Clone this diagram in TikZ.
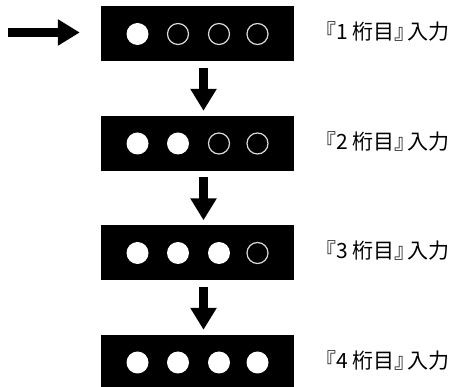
\documentclass[tikz,border=0pt]{standalone}
\usepackage{fontspec}
\newfontfamily\jpfont{Noto Sans CJK JP}
\usetikzlibrary{arrows.meta}

\begin{document}
\begin{tikzpicture}[x=1pt, y=-1pt,
    panel/.style={fill=black, minimum width=193pt, minimum height=55pt, inner sep=0pt},
    lampon/.style={circle, fill=white, minimum size=22pt, inner sep=0pt},
    lampoff/.style={circle, draw=black!15, line width=1.2pt, minimum size=21pt, inner sep=0pt},
    caption/.style={anchor=west, inner sep=0pt, font=\jpfont\fontsize{21}{21}\selectfont},
    blockarrow/.style={line width=9pt, -{Triangle[width=25pt,length=22pt]}}]

\useasboundingbox (0,0) rectangle (472,387);

% Parameters
\def\gap{109.5}

% Panels, lamps and captions
\foreach \n in {1,...,4}
{
    \node[panel] (r\n) at (197.5,{34+(\n-1)*\gap}) {};
    \foreach \k/\dx in {1/-60, 2/-19.5, 3/21.5, 4/60}
    {
        \ifnum\k>\n
            \node[lampoff] (r\n l\k) at ([xshift=\dx pt]r\n.center) {};
        \else
            \node[lampon] (r\n l\k) at ([xshift=\dx pt]r\n.center) {};
        \fi
    }
    \node[caption] (t\n) at (315,{32+(\n-1)*\gap}) {『\n{} 桁目』\kern-0.4em 入力};
}

% Input arrow
\coordinate (in) at (8,32.5);
\draw[blockarrow, shorten >=21pt] (in) -- (in -| r1.west);

% Step arrows
\foreach \a/\b in {1/2, 2/3, 3/4}
{
    \draw[blockarrow, shorten <=6pt, shorten >=5pt]
        ([xshift=6pt]r\a.south) -- ([xshift=6pt]r\b.north);
}

\end{tikzpicture}
\end{document}
